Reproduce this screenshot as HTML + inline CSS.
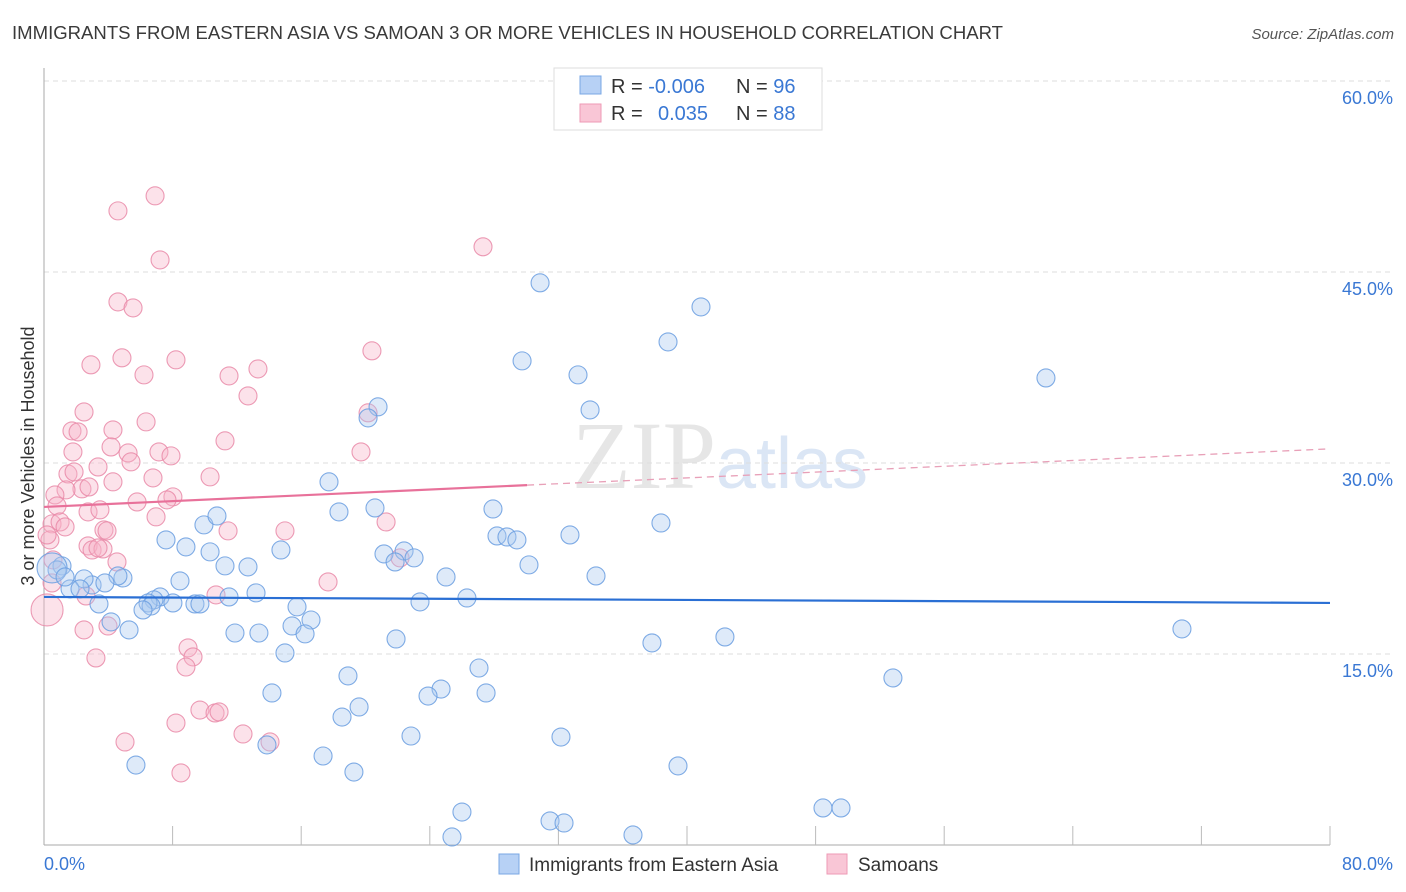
<!DOCTYPE html>
<html><head><meta charset="utf-8"><style>
body{margin:0;background:#fff;font-family:"Liberation Sans",sans-serif;}
#wrap{position:relative;width:1406px;height:892px;overflow:hidden;}
</style></head><body>
<div id="wrap">
<svg id="svg" width="1406" height="892" xmlns="http://www.w3.org/2000/svg">
<text x="12" y="39" font-size="18.5" fill="#3a3a3a" textLength="991" lengthAdjust="spacingAndGlyphs">IMMIGRANTS FROM EASTERN ASIA VS SAMOAN 3 OR MORE VEHICLES IN HOUSEHOLD CORRELATION CHART</text>
<text x="1394" y="39" font-size="15" fill="#555" font-style="italic" text-anchor="end">Source: ZipAtlas.com</text>
<text x="720" y="488" font-size="96" fill="#e6e6e6" text-anchor="middle" font-family="Liberation Serif,serif">ZIP<tspan fill="#dbe6f5" font-family="Liberation Sans,sans-serif" font-size="72">atlas</tspan></text>
<text transform="translate(34,456) rotate(-90)" font-size="18" fill="#333" text-anchor="middle">3 or more Vehicles in Household</text>
<g id="grid"></g><g id="axes"></g><g id="pts"></g><g id="trend"></g>
<g>
<rect x="554" y="68" width="268" height="62" fill="#fff" stroke="#ddd"/>
<rect x="580" y="76" width="21" height="18" fill="#b7d1f5" stroke="#7aa7e4"/>
<rect x="580" y="104" width="21" height="18" fill="#f9c6d6" stroke="#ee9ab5"/>
<text x="611" y="93" font-size="20" fill="#333">R = <tspan fill="#3a78d4">-0.006</tspan><tspan x="736">N = </tspan><tspan fill="#3a78d4">96</tspan></text>
<text x="611" y="120" font-size="20" fill="#333">R = <tspan x="658" fill="#3a78d4">0.035</tspan><tspan x="736">N = </tspan><tspan fill="#3a78d4">88</tspan></text>
</g>
<g>
<rect x="499" y="854" width="20" height="20" fill="#b7d1f5" stroke="#7aa7e4"/>
<text x="529" y="871" font-size="19" fill="#333">Immigrants from Eastern Asia</text>
<rect x="827" y="854" width="20" height="20" fill="#f9c6d6" stroke="#ee9ab5"/>
<text x="858" y="871" font-size="19" fill="#333">Samoans</text>
</g>
</svg>
</div>
<script>
const yTicks=[15,30,45,60];
const xTickLabels=["0.0%","80.0%"];
const blueX=[30.86,40.87,38.82,29.74,33.22,62.33,20.78,33.97,20.16,17.73,27.93,18.35,20.59,9.95,38.38,10.76,7.59,8.83,32.72,28.18,28.80,29.42,10.33,14.74,21.15,22.40,23.02,21.84,30.17,12.69,11.26,25.01,34.34,8.46,4.91,4.60,2.99,3.79,2.49,1.62,1.12,0.81,0.50,1.31,2.24,7.22,6.84,6.47,6.66,6.16,9.39,9.70,8.02,11.51,13.19,26.31,23.39,3.42,15.74,16.61,15.43,4.17,5.29,11.88,13.37,16.24,21.90,37.82,42.36,70.79,14.99,27.06,18.91,52.81,14.18,24.70,23.89,27.50,19.60,18.54,22.83,32.16,13.87,17.36,5.72,19.28,39.44,48.46,49.58,26.00,31.48,32.35,25.38,36.64];
const blueY=[44.15,42.26,39.51,38.02,36.92,36.68,34.41,34.17,33.54,28.52,26.39,26.16,26.47,25.14,25.29,25.84,23.96,23.41,24.35,24.27,24.19,23.96,23.02,23.17,22.86,23.09,22.55,22.23,22.00,21.84,21.92,21.05,21.13,20.74,20.97,21.13,20.42,20.58,20.90,20.11,21.92,21.60,21.76,21.05,20.11,19.48,19.25,19.01,18.77,18.46,18.93,18.93,19.01,19.48,19.80,19.40,19.09,18.93,18.70,17.67,17.20,17.52,16.89,16.65,16.65,16.58,16.18,15.87,16.34,16.97,15.08,13.90,13.28,13.12,11.94,12.25,11.70,11.94,10.84,10.05,8.56,8.48,7.86,6.99,6.28,5.73,6.21,2.91,2.91,2.59,1.89,1.73,0.63,0.79];
const pinkX=[6.91,4.60,27.31,7.22,4.60,5.54,2.92,4.85,8.21,6.22,11.51,13.31,20.40,12.69,2.49,6.35,20.16,4.29,11.26,1.74,2.12,4.17,1.80,7.15,7.90,5.23,5.41,19.72,3.36,1.49,1.87,10.33,6.78,4.29,2.36,2.80,1.37,0.68,8.02,7.65,5.79,0.81,2.74,3.48,6.97,21.28,0.50,1.00,1.31,11.45,14.99,3.73,3.92,0.37,2.74,2.99,3.67,3.36,22.15,4.54,17.67,0.50,2.61,10.70,0.19,3.98,2.49,8.96,9.27,8.83,3.23,9.70,10.64,10.89,8.21,12.38,5.04,14.06,8.52,0.19,0.56];
const pinkY=[50.98,49.80,46.98,45.95,42.65,42.18,37.71,38.26,38.10,36.92,36.84,37.39,38.81,35.27,34.01,33.23,33.94,32.60,31.74,32.52,32.44,31.26,30.87,30.87,30.56,30.79,30.09,30.87,29.69,29.14,29.30,28.91,28.83,28.52,27.97,28.12,27.89,27.49,27.34,27.10,26.94,26.63,26.16,26.32,25.77,25.37,25.22,25.37,24.98,24.67,24.67,24.74,24.67,23.96,23.49,23.17,23.25,23.33,22.55,22.23,20.66,20.58,19.56,19.64,18.46,17.20,16.89,15.48,14.77,13.98,14.69,10.60,10.37,10.45,9.58,8.72,8.09,8.09,5.66,24.35,22.39];
const blueTrend=[19.48,19.01];
const pinkTrend=[26.55,31.11];
const pinkSolidEnd=30.05;

const NS="http://www.w3.org/2000/svg";
const X=v=>44+v*(1286/80);
const Y=v=>845-v*(191/15);
function mk(tag,attrs,parent){const e=document.createElementNS(NS,tag);for(const k in attrs)e.setAttribute(k,attrs[k]);parent.appendChild(e);return e;}
const grid=document.getElementById('grid'),axes=document.getElementById('axes'),pts=document.getElementById('pts'),tr=document.getElementById('trend');
yTicks.forEach(t=>{
  const l=mk('line',{x1:44,x2:1394,y1:Y(t),y2:Y(t),stroke:'#ddd','stroke-dasharray':'5,4'},grid);
  
  
  const tx=mk('text',{x:1393,y:Y(t)+23,'font-size':18,fill:'#3a78d4','text-anchor':'end'},grid);
  tx.textContent=t.toFixed(1)+'%';
  
  
});
mk('line',{x1:44,x2:44,y1:68,y2:845,stroke:'#aaa'},axes);
mk('line',{x1:44,x2:1330,y1:845,y2:845,stroke:'#aaa'},axes);
for(let i=1;i<=10;i++){mk('line',{x1:X(i*8),x2:X(i*8),y1:826,y2:845,stroke:'#bbb'},axes);}
const xl0=mk('text',{x:44,y:870,'font-size':18,fill:'#3a78d4'},axes);xl0.textContent=xTickLabels[0];


const xl1=mk('text',{x:1393,y:870,'font-size':18,fill:'#3a78d4','text-anchor':'end'},axes);xl1.textContent=xTickLabels[1];


function dots(xs,ys,fill,stroke,name,bigIdx,bigR){
  xs.forEach((x,i)=>{
    const c=mk('circle',{cx:X(x),cy:Y(ys[i]),r:i===bigIdx?bigR:9,fill:fill,'fill-opacity':0.38,stroke:stroke,'stroke-width':1.1,'stroke-opacity':0.85},pts);
    
    
  });
}
dots(pinkX,pinkY,'#f6b3c8','#e98aa8','samoan-point',64,16);
dots(blueX,blueY,'#a8c8f0','#6a9ee0','eastern-asia-point',42,15);
const bl=mk('line',{x1:X(0),y1:Y(blueTrend[0]),x2:X(80),y2:Y(blueTrend[1]),stroke:'#2a6fd4','stroke-width':2.2},tr);


const pAt=x=>pinkTrend[0]+(pinkTrend[1]-pinkTrend[0])*x/80;
const pl=mk('line',{x1:X(0),y1:Y(pAt(0)),x2:X(pinkSolidEnd),y2:Y(pAt(pinkSolidEnd)),stroke:'#e8719a','stroke-width':2.2},tr);


const pd=mk('line',{x1:X(pinkSolidEnd),y1:Y(pAt(pinkSolidEnd)),x2:X(80),y2:Y(pAt(80)),stroke:'#e8a0b8','stroke-width':1.3,'stroke-dasharray':'7,5'},tr);


</script>
</body></html>
